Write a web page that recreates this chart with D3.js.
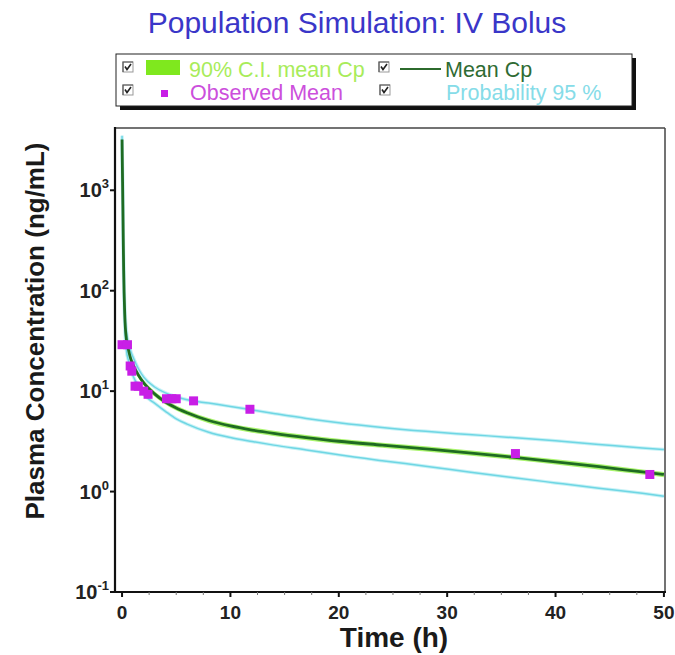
<!DOCTYPE html>
<html>
<head>
<meta charset="utf-8">
<script src="https://cdn.jsdelivr.net/npm/d3@7"></script>
<style>
  html, body { margin: 0; padding: 0; background: #fff; }
  svg { display: block; font-family: "Liberation Sans", Arial, sans-serif; }
</style>
</head>
<body>
<svg id="chart" width="675" height="655"></svg>
<script>
// Simulated time grid (h) and concentrations (ng/mL)
const time = [0, 0.05, 0.1, 0.15, 0.25, 0.4, 0.6, 0.8, 1, 1.5, 2, 3, 4, 5, 6, 8, 10, 12, 14, 17, 20, 24, 28, 32, 36, 40, 44, 48, 50];
const meanCp = [3200, 1200, 420, 160, 58, 33, 25.5, 21, 18.5, 14.5, 12.1, 9.4, 7.8, 6.8, 6.1, 5.1, 4.5, 4.1, 3.8, 3.45, 3.17, 2.9, 2.66, 2.43, 2.2, 1.98, 1.77, 1.57, 1.48];
const ciLow = [3000, 1120, 395, 150, 54, 31, 24, 19.8, 17.4, 13.6, 11.4, 8.85, 7.35, 6.4, 5.75, 4.8, 4.24, 3.86, 3.58, 3.25, 2.98, 2.73, 2.5, 2.28, 2.07, 1.86, 1.66, 1.48, 1.39];
const ciHigh = [3400, 1280, 445, 170, 62, 35, 27, 22.3, 19.6, 15.4, 12.8, 9.95, 8.27, 7.2, 6.47, 5.4, 4.77, 4.35, 4.03, 3.66, 3.36, 3.07, 2.82, 2.58, 2.33, 2.1, 1.88, 1.66, 1.57];
const upper95 = [3500, 1400, 500, 190, 70, 40, 30, 25, 22, 16.8, 13.8, 11.0, 9.6, 8.8, 8.2, 7.6, 7.05, 6.5, 6.0, 5.35, 4.85, 4.35, 3.98, 3.7, 3.45, 3.2, 2.95, 2.72, 2.62];
const lower95 = [2900, 1000, 340, 125, 45, 26, 20, 16.5, 14.3, 11.3, 9.3, 7.6, 6.3, 5.3, 4.7, 3.9, 3.45, 3.15, 2.9, 2.6, 2.32, 2.03, 1.79, 1.57, 1.38, 1.22, 1.08, 0.96, 0.9];

// Observed mean concentrations
const obsTime = [0, 0.5, 0.75, 0.9, 1.2, 1.5, 2.0, 2.4, 4.1, 4.6, 5.0, 6.6, 11.8, 36.3, 48.7];
const obsConc = [29, 29, 17.8, 15.8, 11.2, 11.2, 10, 9.3, 8.4, 8.4, 8.4, 8.0, 6.6, 2.39, 1.48];

// Axis ticks
const xTicks = [0, 10, 20, 30, 40, 50];
const xMinorTicks = [2.5, 5, 7.5, 12.5, 15, 17.5, 22.5, 25, 27.5, 32.5, 35, 37.5, 42.5, 45, 47.5];
const yTicks = [0.1, 1, 10, 100, 1000];
const yTickExp = ["-1", "0", "1", "2", "3"];

const svg = d3.select("#chart");
const pL = 115, pR = 665, pT = 128, pB = 592;

const x = d3.scaleLinear().domain([-0.65, 50.1]).range([pL, pR]);
const y = d3.scaleLog().domain([0.1, 4170]).range([pB, pT]);

svg.append("rect").attr("width", 675).attr("height", 655).attr("fill", "#fff");

// Title
svg.append("text")
  .attr("x", 357).attr("y", 33)
  .attr("text-anchor", "middle")
  .attr("font-size", 30)
  .attr("fill", "#3a36c8")
  .text("Population Simulation: IV Bolus");

// Legend
const lg = svg.append("g");
lg.append("rect").attr("x", 120).attr("y", 58).attr("width", 516).attr("height", 52).attr("fill", "#111");
lg.append("rect").attr("x", 116).attr("y", 54).attr("width", 516).attr("height", 52)
  .attr("fill", "#fff").attr("stroke", "#222").attr("stroke-width", 1);

function checkbox(cx, cy) {
  const g = lg.append("g");
  g.append("rect").attr("x", cx - 5).attr("y", cy - 5).attr("width", 10).attr("height", 10)
    .attr("fill", "#fff").attr("stroke", "#999").attr("stroke-width", 1);
  g.append("path").attr("d", `M${cx - 5},${cy + 5} L${cx - 5},${cy - 5} L${cx + 5},${cy - 5}`)
    .attr("fill", "none").attr("stroke", "#555").attr("stroke-width", 1.2);
  g.append("path").attr("d", `M${cx - 3},${cy - 0.5} L${cx - 1},${cy + 2.5} L${cx + 3},${cy - 3}`)
    .attr("fill", "none").attr("stroke", "#222").attr("stroke-width", 1.6);
}
const row1 = 77, row2 = 100;
checkbox(128, 67);
checkbox(128, 90);
checkbox(384, 67);
checkbox(385, 90);

lg.append("rect").attr("x", 146).attr("y", 60).attr("width", 34).attr("height", 15).attr("fill", "#7fe81e");
lg.append("text").attr("x", 189).attr("y", row1).attr("font-size", 21.5).attr("fill", "#a8ec5a").text("90% C.I. mean Cp");
lg.append("line").attr("x1", 400).attr("x2", 441).attr("y1", 69).attr("y2", 69).attr("stroke", "#2c6a2c").attr("stroke-width", 2);
lg.append("text").attr("x", 445).attr("y", row1).attr("font-size", 21.5).attr("fill", "#2f6b33").text("Mean Cp");
lg.append("rect").attr("x", 161).attr("y", 90).attr("width", 7).attr("height", 7).attr("fill", "#c81ee6");
lg.append("text").attr("x", 190).attr("y", row2).attr("font-size", 21.5).attr("fill", "#cc4fdc").text("Observed Mean");
lg.append("text").attr("x", 446).attr("y", row2).attr("font-size", 21.5).attr("fill", "#86dce8").text("Probability 95 %");

// Plot area
svg.append("clipPath").attr("id", "plotClip")
  .append("rect").attr("x", pL).attr("y", pT).attr("width", pR - pL).attr("height", pB - pT);
const plot = svg.append("g").attr("clip-path", "url(#plotClip)");

const idx = d3.range(time.length);
const line = (arr) => d3.line().x(i => x(time[i])).y(i => y(arr[i])).curve(d3.curveMonotoneX)(idx);

// 90% CI band of the mean
plot.append("path")
  .attr("d", d3.area().x(i => x(time[i])).y0(i => y(ciLow[i])).y1(i => y(ciHigh[i])).curve(d3.curveMonotoneX)(idx))
  .attr("fill", "#8cf03c").attr("opacity", 0.75);

// 95% probability bounds
[upper95, lower95].forEach(arr => {
  plot.append("path").attr("d", line(arr)).attr("fill", "none")
    .attr("stroke", "#c8f2f6").attr("stroke-width", 3.5);
  plot.append("path").attr("d", line(arr)).attr("fill", "none")
    .attr("stroke", "#6fd6e4").attr("stroke-width", 1.5);
});

// Mean concentration
plot.append("path").attr("d", line(meanCp)).attr("fill", "none")
  .attr("stroke", "#1f6b22").attr("stroke-width", 2.8);

// Observed means
plot.selectAll("rect.obs").data(obsTime).join("rect")
  .attr("class", "obs")
  .attr("x", (d, i) => x(d) - 4.5)
  .attr("y", (d, i) => y(obsConc[i]) - 4.5)
  .attr("width", 9).attr("height", 9)
  .attr("fill", "#c81ee6");

// Frame
svg.append("line").attr("x1", pL).attr("x2", pR).attr("y1", pT).attr("y2", pT).attr("stroke", "#444").attr("stroke-width", 1.5);
svg.append("line").attr("x1", pR).attr("x2", pR).attr("y1", pT).attr("y2", pB).attr("stroke", "#444").attr("stroke-width", 1.5);

// X axis
const xAxis = svg.append("g");
xAxis.append("line").attr("x1", pL - 1).attr("x2", pR + 1).attr("y1", pB).attr("y2", pB).attr("stroke", "#111").attr("stroke-width", 2.2);
xAxis.selectAll("line.minor").data(xMinorTicks).join("line").attr("class", "minor")
  .attr("x1", d => x(d)).attr("x2", d => x(d)).attr("y1", pB).attr("y2", pB + 3)
  .attr("stroke", "#777").attr("stroke-width", 1);
xAxis.selectAll("line.major").data(xTicks).join("line").attr("class", "major")
  .attr("x1", d => x(d)).attr("x2", d => x(d)).attr("y1", pB).attr("y2", pB + 5)
  .attr("stroke", "#111").attr("stroke-width", 2);
xAxis.selectAll("text").data(xTicks).join("text")
  .attr("x", d => x(d)).attr("y", 619)
  .attr("text-anchor", "middle").attr("font-size", 19).attr("font-weight", "bold").attr("fill", "#222")
  .text(d => d);
svg.append("text").attr("x", 394).attr("y", 647).attr("text-anchor", "middle")
  .attr("font-size", 28).attr("font-weight", "bold").attr("fill", "#1a1a1a").text("Time (h)");

// Y axis (log, powers of ten)
const yAxis = svg.append("g");
yAxis.append("line").attr("x1", pL).attr("x2", pL).attr("y1", pT - 1).attr("y2", pB + 1).attr("stroke", "#111").attr("stroke-width", 2.2);
yAxis.selectAll("line.major").data(yTicks).join("line").attr("class", "major")
  .attr("x1", pL - 5).attr("x2", pL).attr("y1", d => y(d)).attr("y2", d => y(d))
  .attr("stroke", "#111").attr("stroke-width", 2);
const yl = yAxis.selectAll("text").data(yTicks).join("text")
  .attr("x", 109).attr("y", d => y(d) + 7)
  .attr("text-anchor", "end").attr("font-weight", "bold").attr("fill", "#222");
yl.append("tspan").attr("font-size", 20).text("10");
yl.append("tspan").attr("font-size", 13).attr("dy", -9).text((d, i) => yTickExp[i]);

svg.append("text")
  .attr("transform", "translate(44,331) rotate(-90)")
  .attr("text-anchor", "middle")
  .attr("font-size", 26).attr("font-weight", "bold").attr("fill", "#1a1a1a")
  .text("Plasma Concentration (ng/mL)");
</script>
</body>
</html>
